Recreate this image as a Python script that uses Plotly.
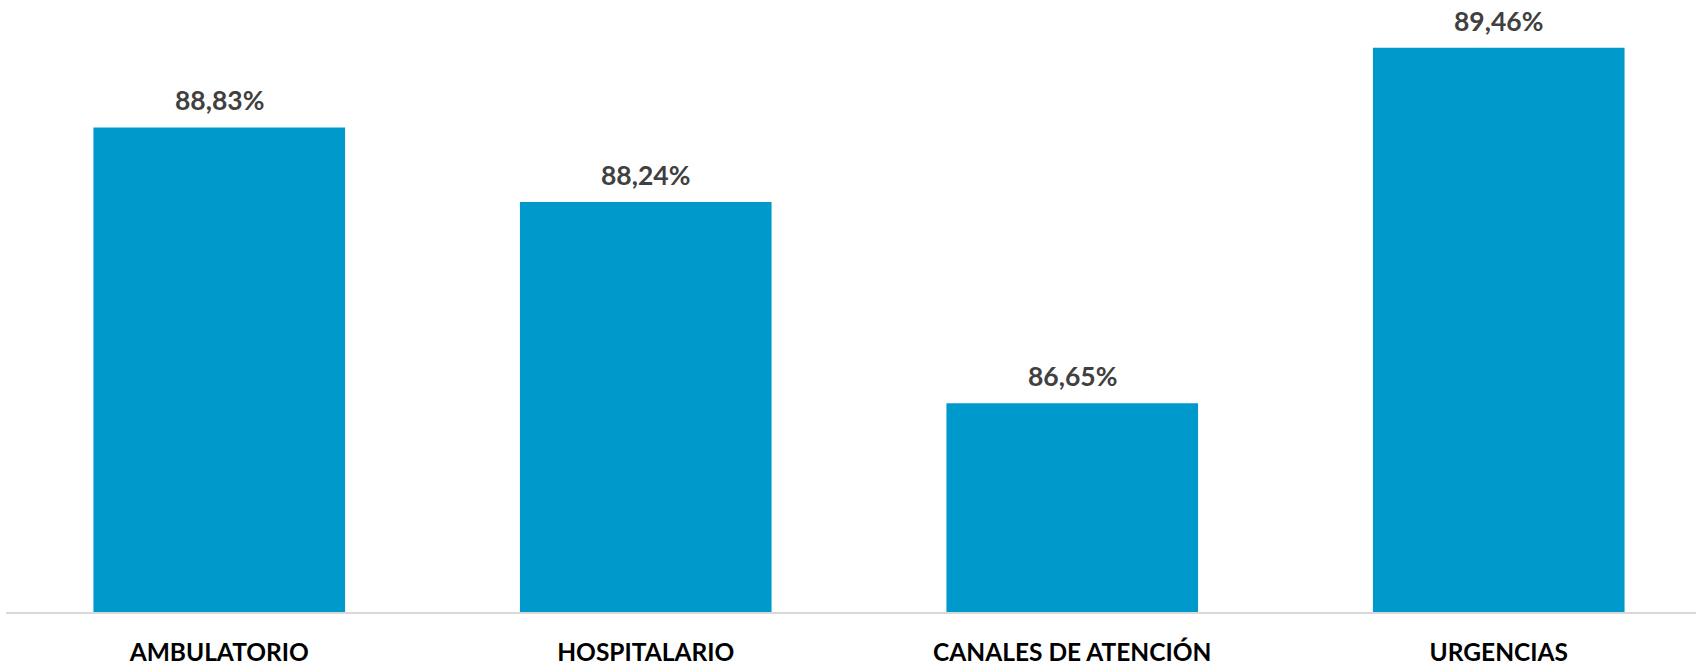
import plotly.graph_objects as go

categories = ["AMBULATORIO", "HOSPITALARIO", "CANALES DE ATENCIÓN", "URGENCIAS"]
values = [88.83, 88.24, 86.65, 89.46]
labels = [f"{v:.2f}".replace(".", ",") + "%" for v in values]

BAR_COLOR = "#0099cc"
FONT = "Lato"

fig = go.Figure()
fig.add_trace(go.Bar(
    x=categories, y=values,
    marker=dict(color=BAR_COLOR, line=dict(width=0)),
    hoverinfo="skip",
))

for c, v, t in zip(categories, values, labels):
    fig.add_annotation(
        x=c, y=v, text=f"<b>{t}</b>", showarrow=False,
        yanchor="bottom", yshift=9,
        font=dict(family=FONT, size=26.5, color="#404040"),
    )

fig.update_layout(
    width=1696, height=666,
    margin=dict(l=6, r=0, t=0, b=51),
    paper_bgcolor="white", plot_bgcolor="white",
    bargap=0.41,
    showlegend=False,
    hovermode=False,
    xaxis=dict(
        range=[-0.5, 3.4625],
        showline=True, linecolor="#d9d9d9", linewidth=1.5,
        ticks="outside", ticklen=18, tickcolor="rgba(0,0,0,0)",
        tickfont=dict(family=FONT, size=24.5, color="#000000", weight="bold"),
        showgrid=False, zeroline=False, fixedrange=True,
    ),
    yaxis=dict(
        range=[85, 89.8368],
        visible=False, showgrid=False, zeroline=False, fixedrange=True,
    ),
)

fig.write_html(
    "out.html",
    config={"displayModeBar": False, "staticPlot": True},
    post_script="document.body.style.margin='0';document.body.style.overflow='hidden';",
)
